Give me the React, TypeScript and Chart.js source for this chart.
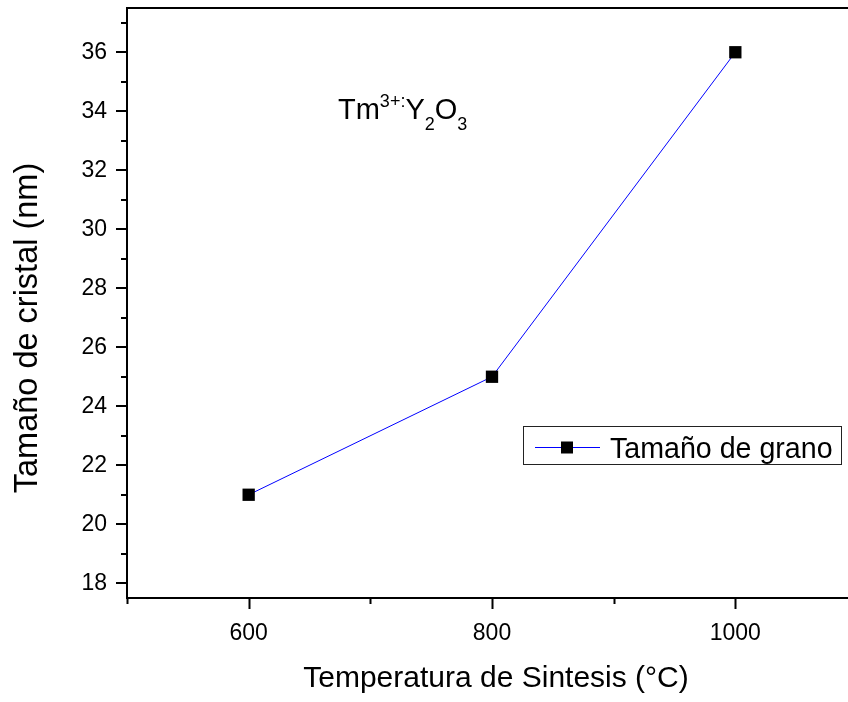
import React, { useEffect, useRef } from 'react';
import { Chart, registerables } from 'chart.js';

Chart.register(...registerables);

// Synthesis temperature (°C) and crystal size (nm)
const temperatures = [600, 800, 1000];
const crystalSize = [21, 25, 36];

const xRange = [500, 1100];
const yRange = [17.5, 37.5];
const xMajorTicks = [600, 800, 1000];
const xMinorTicks = [500, 700, 900, 1100];
const yMajorTicks = [18, 20, 22, 24, 26, 28, 30, 32, 34, 36];
const yMinorTicks = [19, 21, 23, 25, 27, 29, 31, 33, 35, 37];

const seriesLabel = 'Tamaño de grano';
const xTitle = 'Temperatura de Sintesis (°C)';
const yTitle = 'Tamaño de cristal (nm)';

const FONT = '"Liberation Sans", Arial, Helvetica, sans-serif';
const LINE_BLUE = '#0000ff';

// Axis frame, tick marks, axis titles, legend box and the compound label
const decorations = {
  id: 'decorations',
  afterDraw(chart: any) {
    const { ctx, chartArea } = chart;
    const { left, right, top, bottom } = chartArea;
    const xs = chart.scales.x;
    const ys = chart.scales.y;
    ctx.save();

    // axis lines
    ctx.strokeStyle = '#000';
    ctx.lineWidth = 2;
    ctx.beginPath();
    ctx.moveTo(right + 2, top);
    ctx.lineTo(left, top);
    ctx.lineTo(left, bottom);
    ctx.lineTo(right + 2, bottom);
    ctx.stroke();

    // tick marks (outward)
    const major = 11;
    const minor = 6;
    ctx.beginPath();
    for (const v of xMajorTicks) {
      const px = Math.round(xs.getPixelForValue(v)) + 0.5;
      ctx.moveTo(px, bottom);
      ctx.lineTo(px, bottom + major);
    }
    for (const v of xMinorTicks) {
      const px = Math.round(xs.getPixelForValue(v)) + 0.5;
      ctx.moveTo(px, bottom);
      ctx.lineTo(px, bottom + minor);
    }
    for (const v of yMajorTicks) {
      const py = Math.round(ys.getPixelForValue(v));
      ctx.moveTo(left, py);
      ctx.lineTo(left - major, py);
    }
    for (const v of yMinorTicks) {
      const py = Math.round(ys.getPixelForValue(v));
      ctx.moveTo(left, py);
      ctx.lineTo(left - minor, py);
    }
    ctx.stroke();

    // axis titles
    ctx.fillStyle = '#000';
    ctx.font = `30px ${FONT}`;
    ctx.textAlign = 'center';
    ctx.textBaseline = 'alphabetic';
    ctx.fillText(xTitle, (left + right) / 2 + 4, 687);

    ctx.save();
    ctx.font = `32.5px ${FONT}`;
    ctx.translate(37, (top + bottom) / 2 + 25);
    ctx.rotate(-Math.PI / 2);
    ctx.fillText(yTitle, 0, 0);
    ctx.restore();

    // legend
    const lx = 523.5;
    const ly = 426.5;
    ctx.lineWidth = 1;
    ctx.strokeStyle = '#222';
    ctx.strokeRect(lx, ly, 318, 38);
    const cy = 447.5;
    ctx.strokeStyle = LINE_BLUE;
    ctx.beginPath();
    ctx.moveTo(535, cy);
    ctx.lineTo(600, cy);
    ctx.stroke();
    ctx.fillStyle = '#000';
    ctx.fillRect(561, cy - 6, 12, 12);
    ctx.font = `28.6px ${FONT}`;
    ctx.textAlign = 'left';
    ctx.textBaseline = 'alphabetic';
    ctx.fillText(seriesLabel, 610, 458);

    // compound label Tm3+:Y2O3
    const big = `29px ${FONT}`;
    const small = `18px ${FONT}`;
    const base = 119;
    const parts: [string, string, number][] = [
      ['Tm', big, base],
      ['3+:', small, base - 12],
      ['Y', big, base],
      ['2', small, base + 11],
      ['O', big, base],
      ['3', small, base + 11],
    ];
    let cx = 338;
    for (const [t, f, b] of parts) {
      ctx.font = f;
      ctx.fillText(t, cx, b);
      cx += ctx.measureText(t).width;
    }

    ctx.restore();
  },
};

const clearPadding = (scale: any) => {
  scale.paddingTop = 0;
  scale.paddingBottom = 0;
  scale.paddingLeft = 0;
  scale.paddingRight = 0;
};

export default function App() {
  const canvasRef = useRef<HTMLCanvasElement | null>(null);

  useEffect(() => {
    if (!canvasRef.current) return;
    const chart = new Chart(canvasRef.current, {
      type: 'scatter',
      data: {
        datasets: [
          {
            label: seriesLabel,
            data: temperatures.map((t, i) => ({ x: t, y: crystalSize[i] })),
            showLine: true,
            borderColor: LINE_BLUE,
            borderWidth: 1,
            pointStyle: 'rect',
            pointRadius: 8.7,
            pointBorderWidth: 0,
            pointBackgroundColor: '#000',
            pointBorderColor: '#000',
            tension: 0,
          },
        ],
      },
      options: {
        animation: false,
        responsive: false,
        devicePixelRatio: 1,
        layout: { autoPadding: false, padding: { top: 8, right: 0, bottom: 0, left: 0 } },
        plugins: {
          legend: { display: false },
          tooltip: { enabled: false },
          title: { display: false },
        },
        scales: {
          x: {
            type: 'linear',
            min: xRange[0],
            max: xRange[1],
            afterBuildTicks: (scale: any) => {
              scale.ticks = xMajorTicks.map((v) => ({ value: v }));
            },
            afterFit: (scale: any) => {
              scale.height = 104;
              clearPadding(scale);
            },
            grid: { display: false, drawTicks: false },
            border: { display: false },
            ticks: {
              color: '#000',
              font: { family: FONT, size: 23 },
              padding: 22,
              maxRotation: 0,
              autoSkip: false,
              callback: (v: any) => String(v),
            },
          },
          y: {
            type: 'linear',
            min: yRange[0],
            max: yRange[1],
            afterBuildTicks: (scale: any) => {
              scale.ticks = yMajorTicks.map((v) => ({ value: v }));
            },
            afterFit: (scale: any) => {
              scale.width = 127;
              clearPadding(scale);
            },
            grid: { display: false, drawTicks: false },
            border: { display: false },
            ticks: {
              color: '#000',
              font: { family: FONT, size: 23 },
              padding: 20,
              autoSkip: false,
              callback: (v: any) => String(v),
            },
          },
        },
      },
      plugins: [decorations],
    });
    return () => chart.destroy();
  }, []);

  return (
    <div
      style={{
        position: 'fixed',
        left: 0,
        top: 0,
        width: 848,
        height: 702,
        overflow: 'hidden',
        background: '#fff',
      }}
    >
      <canvas ref={canvasRef} width={857} height={702} style={{ display: 'block' }} />
    </div>
  );
}
